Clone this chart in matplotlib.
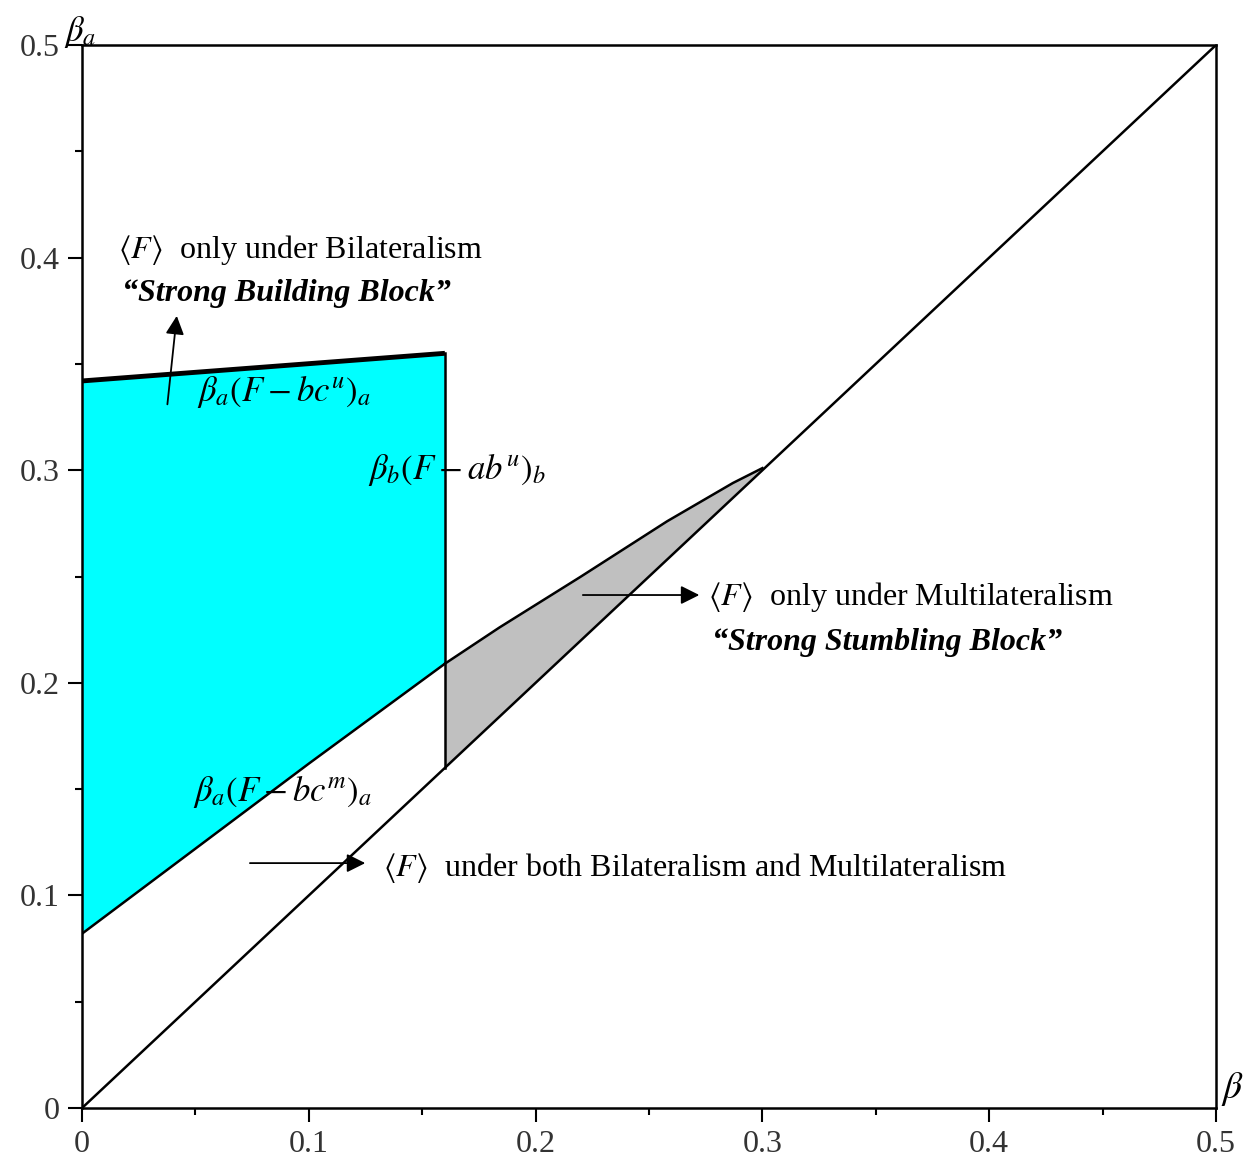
import matplotlib
matplotlib.use('Agg')
import matplotlib.pyplot as plt
from matplotlib.ticker import MultipleLocator

plt.rcParams['font.family'] = ['Liberation Serif', 'DejaVu Serif']
plt.rcParams['mathtext.fontset'] = 'stix'

# region boundaries
cyan_top_x = [0.0, 0.16]
cyan_top_y = [0.342, 0.355]
cyan_bot_x = [0.0, 0.05, 0.10, 0.16]
cyan_bot_y = [0.082, 0.122, 0.162, 0.209]
gray_top_x = [0.16, 0.184, 0.220, 0.258, 0.287, 0.300]
gray_top_y = [0.209, 0.226, 0.250, 0.276, 0.294, 0.301]
diag_x = [0.0, 0.5]
diag_y = [0.0, 0.5]
cut_x = 0.16
ticks = [0.0, 0.1, 0.2, 0.3, 0.4, 0.5]
tick_labels = ['0', '0.1', '0.2', '0.3', '0.4', '0.5']

fig = plt.figure(figsize=(12.45, 11.64), dpi=100)
ax = fig.add_axes([0.0659, 0.0481, 0.9108, 0.9132])

# cyan region: F only under bilateralism
cx = cyan_bot_x + cyan_top_x[::-1]
cy = cyan_bot_y + cyan_top_y[::-1]
ax.fill(cx, cy, color='#00ffff', lw=0)

# gray region: F only under multilateralism
gx = gray_top_x + [gray_top_x[-1], cut_x]
gy = gray_top_y + [gray_top_x[-1], cut_x]
ax.fill(gx, gy, color='#c0c0c0', lw=0)

ax.plot(cyan_top_x, cyan_top_y, color='black', lw=3.5, solid_capstyle='butt')
ax.plot(cyan_bot_x, cyan_bot_y, color='black', lw=1.8)
ax.plot(gray_top_x, gray_top_y, color='black', lw=1.8)
ax.plot([cut_x, cut_x], [cut_x, cyan_top_y[-1]], color='black', lw=1.8)
ax.plot(diag_x, diag_y, color='black', lw=1.8)

ax.set_xlim(0, 0.5)
ax.set_ylim(0, 0.5)
ax.set_xticks(ticks)
ax.set_xticklabels(tick_labels)
ax.set_yticks(ticks)
ax.set_yticklabels(tick_labels)
ax.xaxis.set_minor_locator(MultipleLocator(0.05))
ax.yaxis.set_minor_locator(MultipleLocator(0.05))
ax.tick_params(which='major', length=10, width=1.5, labelsize=23, pad=6,
               labelcolor='#333333', direction='out')
ax.tick_params(which='minor', length=5, width=1.5, direction='out')
for s in ax.spines.values():
    s.set_linewidth(1.8)

# axis names
ax.text(-0.008, 0.502, r'$\beta_a$', fontsize=25, ha='left', va='baseline')
ax.text(0.502, 0.0, r'$\beta$', fontsize=27, ha='left', va='bottom')

fs = 23
mfs = 25
ax.text(0.0159, 0.4036, r'$\langle F\rangle$  only under Bilateralism',
        fontsize=fs, ha='left', va='center')
ax.text(0.0176, 0.3833, '\u201cStrong Building Block\u201d', fontsize=fs,
        fontweight='bold', fontstyle='italic', ha='left', va='center')
ax.annotate('', xy=(0.0419, 0.3739), xytext=(0.0375, 0.3297),
            arrowprops=dict(arrowstyle='-|>', color='black', lw=1.3, mutation_scale=28))
ax.text(0.0507, 0.3368, r'$\beta_a(F-bc^u)_a$', fontsize=mfs, ha='left', va='center')
ax.text(0.1261, 0.3001, r'$\beta_b(F-ab^u)_b$', fontsize=mfs, ha='left', va='center')

ax.annotate('', xy=(0.2734, 0.2413), xytext=(0.2196, 0.2413),
            arrowprops=dict(arrowstyle='-|>', color='black', lw=1.3, mutation_scale=28))
ax.text(0.2760, 0.2404, r'$\langle F\rangle$  only under Multilateralism',
        fontsize=fs, ha='left', va='center')
ax.text(0.2778, 0.2192, '\u201cStrong Stumbling Block\u201d', fontsize=fs,
        fontweight='bold', fontstyle='italic', ha='left', va='center')

ax.text(0.0489, 0.1486, r'$\beta_a(F-bc^m)_a$', fontsize=mfs, ha='left', va='center')
ax.annotate('', xy=(0.1261, 0.1152), xytext=(0.0728, 0.1152),
            arrowprops=dict(arrowstyle='-|>', color='black', lw=1.3, mutation_scale=28))
ax.text(0.1327, 0.1129, r'$\langle F\rangle$  under both Bilateralism and Multilateralism',
        fontsize=fs, ha='left', va='center')

fig.savefig('out.png', dpi=100)
